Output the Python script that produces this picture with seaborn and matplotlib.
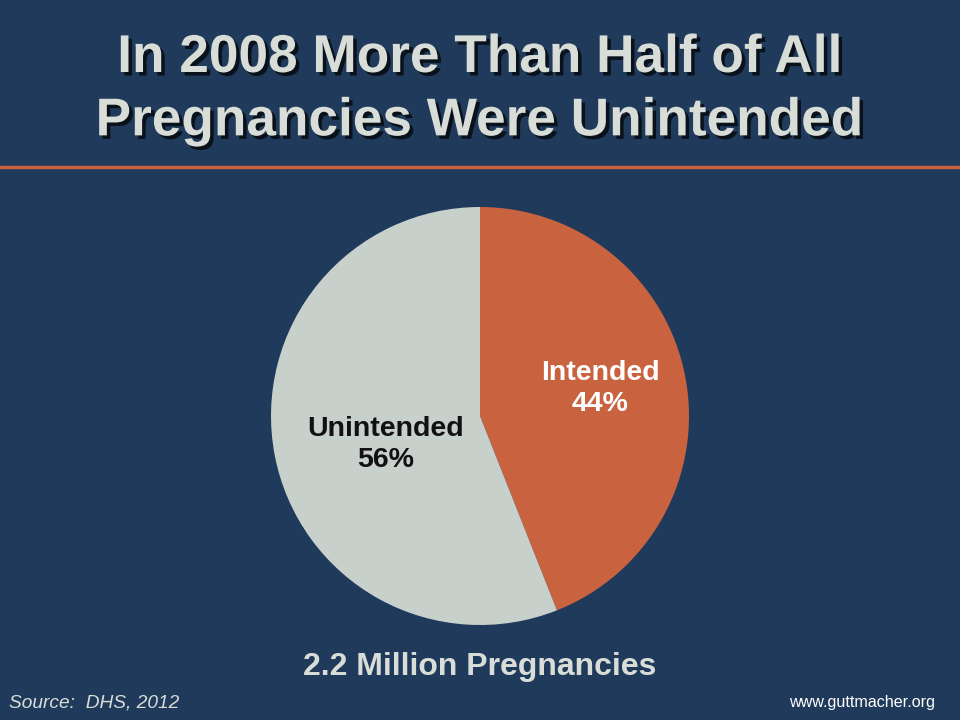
import numpy as np
import matplotlib
matplotlib.use("Agg")
import matplotlib.pyplot as plt
import matplotlib.patheffects as pe
import seaborn as sns

# data
categories = ["Intended", "Unintended"]
shares = [44, 56]
total_label = "2.2 Million Pregnancies"

# colours
bg = "#1F3A5A"
slice_colors = ["#C8623F", "#C8D0CC"]
label_colors = ["white", "#111111"]
title_color = "#D9DDD8"

sns.set_theme(style="white")
plt.rcParams["font.family"] = ["Liberation Sans", "DejaVu Sans"]

fig = plt.figure(figsize=(9.6, 7.2), dpi=100, facecolor=bg)

# title with drop shadow
shadow = [pe.withSimplePatchShadow(offset=(2.5, -2.5), shadow_rgbFace="black", alpha=0.7)]
fig.text(0.5, 0.900, "In 2008 More Than Half of All", ha="center", va="baseline",
         fontsize=38.3, fontweight="bold", color=title_color, path_effects=shadow)
fig.text(0.5, 0.812, "Pregnancies Were Unintended", ha="center", va="baseline",
         fontsize=38.3, fontweight="bold", color=title_color, path_effects=shadow)

# orange rule under the title
fig.add_artist(plt.Line2D([0, 1], [0.768, 0.768], color="#C8623F", lw=2.5))

# pie
ax = fig.add_axes([271 / 960, 95 / 720, 418 / 960, 418 / 720])
ax.set_facecolor(bg)
wedges, _ = ax.pie(shares, colors=slice_colors, startangle=90, counterclock=False,
                   radius=1.0, wedgeprops=dict(linewidth=0))
ax.set_xlim(-1, 1)
ax.set_ylim(-1, 1)
ax.set_aspect("equal")
ax.axis("off")

# slice labels, placed along each wedge's mid angle
dists = [0.59, 0.47]
offsets = [2.0, 6.0]
for w, cat, val, col, d, off in zip(wedges, categories, shares, label_colors, dists, offsets):
    mid = np.deg2rad((w.theta1 + w.theta2) / 2 + off)
    ax.text(d * np.cos(mid), d * np.sin(mid), f"{cat}\n{val}%", ha="center", va="center",
            fontsize=20.5, fontweight="bold", color=col, linespacing=1.22)

# footer texts
fig.text(0.5, 0.073, total_label, ha="center", va="center", fontsize=23,
         fontweight="bold", color=title_color,
         family=["Liberation Sans Narrow", "Liberation Sans", "DejaVu Sans"])
fig.text(0.009, 0.024, "Source:  DHS, 2012", ha="left", va="center", fontsize=13.8,
         style="italic", color=title_color,
         family=["Liberation Sans Narrow", "Liberation Sans", "DejaVu Sans"])
fig.text(0.974, 0.024, "www.guttmacher.org", ha="right", va="center", fontsize=11.6,
         color="white",
         family=["Liberation Sans Narrow", "Liberation Sans", "DejaVu Sans"])

fig.savefig("out.png", dpi=100, facecolor=bg)
